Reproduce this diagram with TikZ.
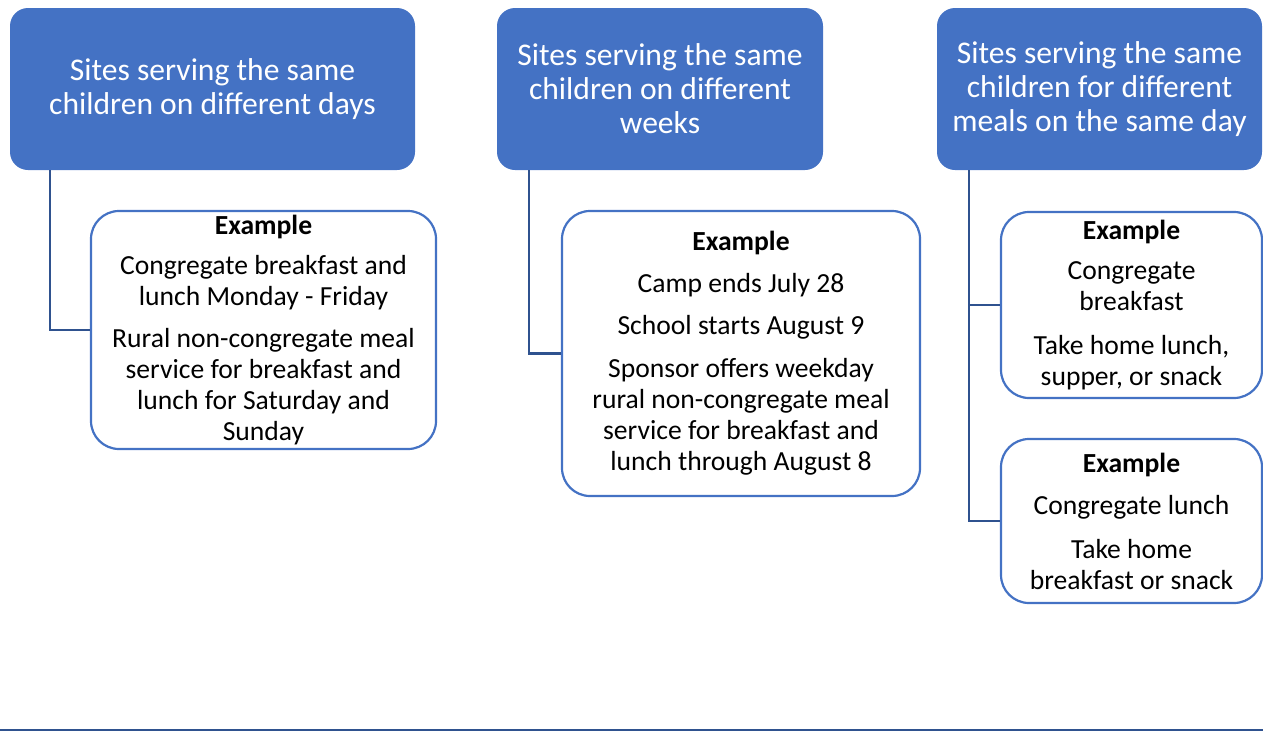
\documentclass[tikz,border=0pt]{standalone}
\usepackage{fontspec}
\setmainfont{Carlito}
\definecolor{hdblue}{HTML}{4472C4}
\definecolor{lnblue}{HTML}{2F528F}

\begin{document}
\begin{tikzpicture}[x=1pt, y=-1pt,
  head/.style={fill=hdblue, rounded corners=18pt, text=white, align=center,
               font=\fontsize{31.6}{34}\selectfont, minimum height=162pt},
  ex/.style={draw=hdblue, line width=2.2pt, fill=white, rounded corners=28pt,
             align=center, font=\fontsize{27.6}{31}\selectfont},
  link/.style={draw=lnblue, line width=2.5pt}]
\useasboundingbox (0,0) rectangle (1263,731);
\node[head, minimum width=405pt] (hdA) at (212.5,89)
  {Sites serving the same\\children on different days};
\node[head, minimum width=326pt] (hdB) at (660,89)
  {Sites serving the same\\children on different\\weeks};
\node[head, minimum width=325pt] (hdC) at (1099.5,89)
  {Sites serving the same\\children for different\\meals on the same day};
\node[ex, minimum width=345pt, minimum height=238pt] (exA) at (263.5,330)
  {\textbf{Example}\\[9pt]Congregate breakfast and\\lunch Monday - Friday\\[11pt]
   Rural non-congregate meal\\service for breakfast and\\lunch for Saturday and\\Sunday};
\node[ex, minimum width=358pt, minimum height=285pt] (exB) at (741,353.5)
  {\textbf{Example}\\[11pt]Camp ends July 28\\[11pt]School starts August 9\\[12pt]
   Sponsor offers weekday\\rural non-congregate meal\\service for breakfast and\\lunch through August 8};
\node[ex, minimum width=261pt, minimum height=186pt] (exC) at (1131.5,305)
  {\textbf{Example}\\[9pt]Congregate\\breakfast\\[13pt]Take home lunch,\\supper, or snack};
\node[ex, minimum width=261pt, minimum height=164pt] (exD) at (1131.5,521)
  {\textbf{Example}\\[11pt]Congregate lunch\\[13pt]Take home\\breakfast or snack};
\draw[link] ([xshift=40pt]hdA.south west) |- (exA.west);
\draw[link] ([xshift=32pt]hdB.south west) |- (exB.west);
\draw[link] ([xshift=32pt]hdC.south west) |- (exC.west);
\draw[link] ([xshift=32pt]hdC.south west) |- (exD.west);
\draw[lnblue, line width=1.5pt] (0,730) -- (1263,730);
\end{tikzpicture}
\end{document}
